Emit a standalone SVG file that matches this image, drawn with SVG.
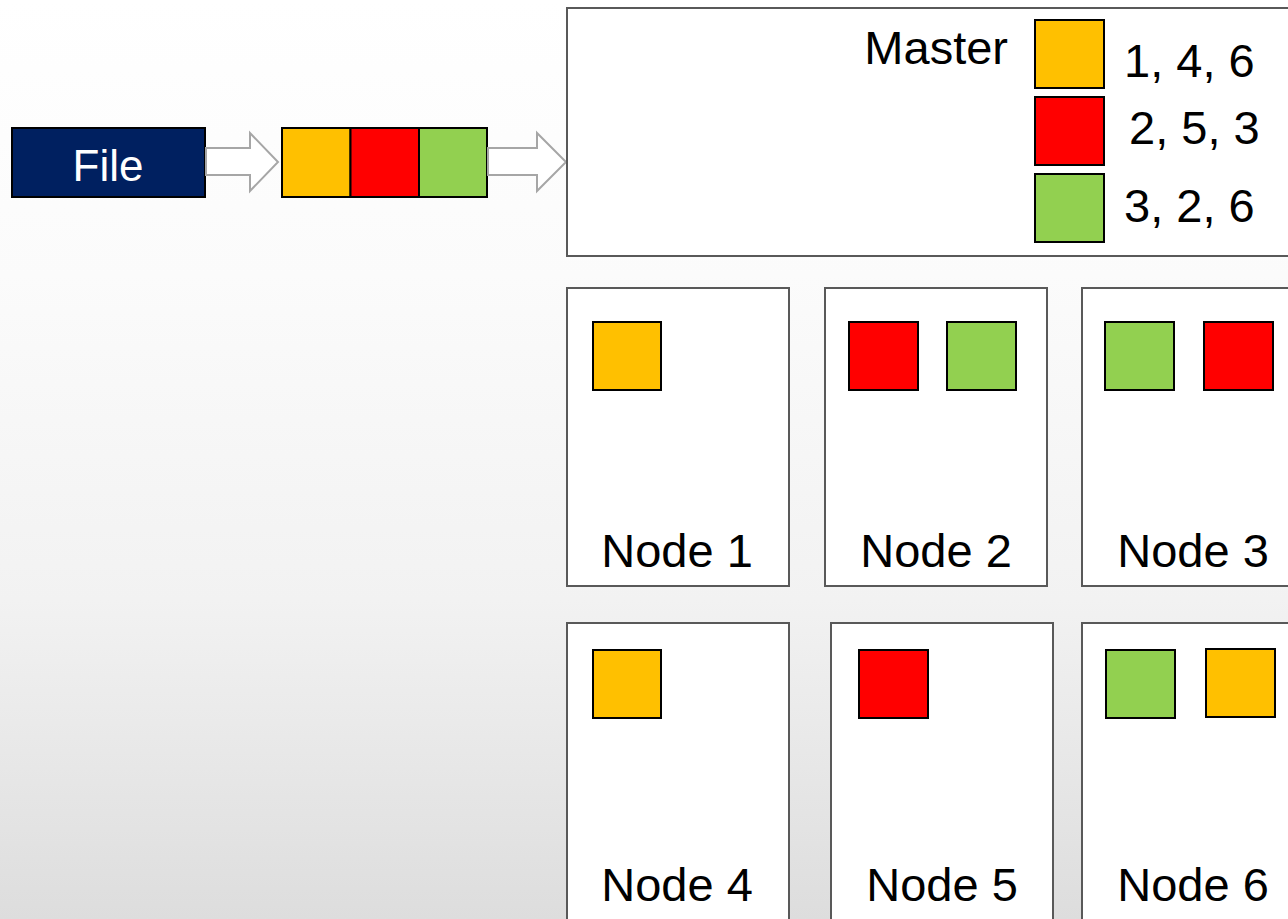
<svg xmlns="http://www.w3.org/2000/svg" width="1288" height="919" viewBox="0 0 1288 919">
  <defs>
    <linearGradient id="bg" x1="0" y1="0" x2="0" y2="1">
      <stop offset="0" stop-color="#ffffff"/>
      <stop offset="0.3" stop-color="#fbfbfb"/>
      <stop offset="0.653" stop-color="#f2f2f2"/>
      <stop offset="1" stop-color="#dddddd"/>
    </linearGradient>
    <style>
      .box { fill: #ffffff; stroke: #595959; stroke-width: 2; }
      .blk { stroke: #000000; stroke-width: 2; }
      .y { fill: #FFC000; }
      .r { fill: #FF0000; }
      .g { fill: #92D050; }
      .arrow { fill: #ffffff; stroke: #a6a6a6; stroke-width: 2; }
      .lbl { font-family: "Liberation Sans", Arial, sans-serif; font-size: 47px; fill: #000000; }
      .mid { text-anchor: middle; }
    </style>
  </defs>

  <rect x="0" y="0" width="1288" height="919" fill="url(#bg)"/>

  <!-- source file -->
  <g id="file">
    <rect x="12" y="128" width="193" height="69" fill="#002060" stroke="#000000" stroke-width="2"/>
    <text x="108" y="181" class="mid" font-family="Liberation Sans, Arial, sans-serif" font-size="44" fill="#ffffff">File</text>
  </g>

  <!-- file split into three blocks -->
  <g id="blocks">
    <rect x="282" y="128" width="68.5" height="69" class="y blk"/>
    <rect x="350.5" y="128" width="68.5" height="69" class="r blk"/>
    <rect x="419" y="128" width="68" height="69" class="g blk"/>
  </g>

  <!-- block arrows -->
  <g id="connectors">
    <path class="arrow" d="M206,148 H250 V133 L278,162 L250,191 V175 H206 Z"/>
    <path class="arrow" d="M488,148 H537 V133 L566,162 L537,191 V175 H488 Z"/>
  </g>

  <!-- master with block placement table -->
  <g id="master">
    <rect x="567" y="8" width="740" height="248" class="box"/>
    <text x="1008" y="64" class="lbl" text-anchor="end">Master</text>
    <rect x="1035" y="20" width="69" height="68" class="y blk"/>
    <rect x="1035" y="97" width="69" height="68" class="r blk"/>
    <rect x="1035" y="174" width="69" height="68" class="g blk"/>
    <text x="1124" y="77" class="lbl">1, 4, 6</text>
    <text x="1129" y="144" class="lbl">2, 5, 3</text>
    <text x="1124" y="222" class="lbl">3, 2, 6</text>
  </g>

  <g id="node1">
    <rect x="567" y="288" width="222" height="298" class="box"/>
    <rect x="593" y="322" width="68" height="68" class="y blk"/>
    <text x="677" y="567" class="lbl mid">Node 1</text>
  </g>

  <g id="node2">
    <rect x="825" y="288" width="222" height="298" class="box"/>
    <rect x="849" y="322" width="69" height="68" class="r blk"/>
    <rect x="947" y="322" width="69" height="68" class="g blk"/>
    <text x="936" y="567" class="lbl mid">Node 2</text>
  </g>

  <g id="node3">
    <rect x="1082" y="288" width="222" height="298" class="box"/>
    <rect x="1105" y="322" width="69" height="68" class="g blk"/>
    <rect x="1204" y="322" width="69" height="68" class="r blk"/>
    <text x="1193" y="567" class="lbl mid">Node 3</text>
  </g>

  <g id="node4">
    <rect x="567" y="623" width="222" height="310" class="box"/>
    <rect x="593" y="650" width="68" height="68" class="y blk"/>
    <text x="677" y="901" class="lbl mid">Node 4</text>
  </g>

  <g id="node5">
    <rect x="831" y="623" width="222" height="310" class="box"/>
    <rect x="859" y="650" width="69" height="68" class="r blk"/>
    <text x="942" y="901" class="lbl mid">Node 5</text>
  </g>

  <g id="node6">
    <rect x="1082" y="623" width="222" height="310" class="box"/>
    <rect x="1106" y="650" width="69" height="68" class="g blk"/>
    <rect x="1206" y="649" width="69" height="68" class="y blk"/>
    <text x="1193" y="901" class="lbl mid">Node 6</text>
  </g>
</svg>
